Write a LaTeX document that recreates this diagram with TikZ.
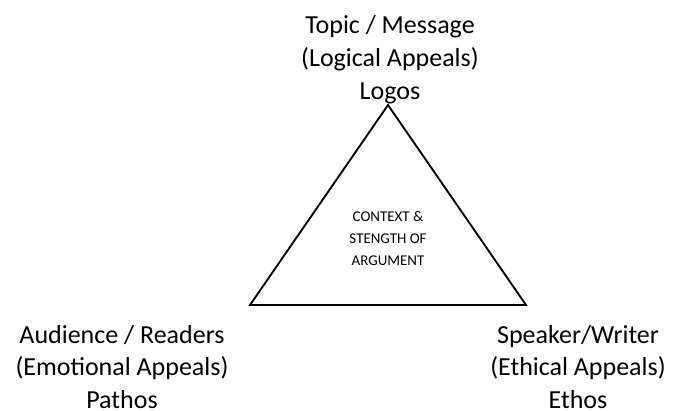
\documentclass[tikz,border=0pt]{standalone}
\usepackage{fontspec}
\setmainfont{Carlito}

\begin{document}
\begin{tikzpicture}[
        x=0.75pt, y=-0.75pt,
        appeal/.style={align=center, inner sep=0pt, font=\fontsize{19.5}{24.6}\selectfont},
        core/.style={align=center, inner sep=0pt, font=\fontsize{11.2}{16.5}\selectfont},
        side/.style={draw, line width=1.4pt, line join=miter}
    ]
        \useasboundingbox (0,0) rectangle (677,410);

        % Corners of the triangle
        \coordinate (apex) at (388,105);
        \coordinate (left) at (250,305);
        \coordinate (right) at (526,305);

        % Triangle
        \draw[side] (apex) -- (left) -- (right) -- cycle;

        % Appeals at the corners
        \node[appeal] (logos) at (390,60) {Topic / Message\\(Logical Appeals)\\Logos};
        \node[appeal] (pathos) at (122,367) {Audience / Readers\\(Emotional Appeals)\\Pathos};
        \node[appeal] (ethos) at (578,367) {Speaker/Writer\\(Ethical Appeals)\\Ethos};

        % Inside the triangle
        \node[core] (context) at (388,238) {CONTEXT \&\\STENGTH OF\\ARGUMENT};

    \end{tikzpicture}
\end{document}
